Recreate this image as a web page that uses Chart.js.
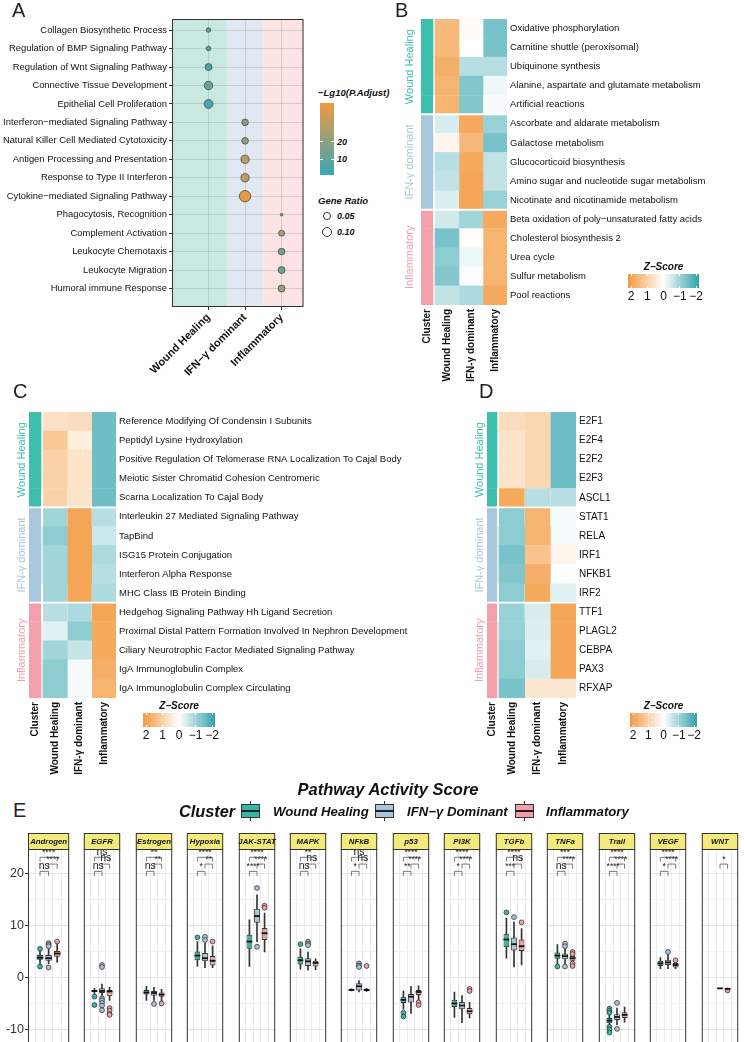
<!DOCTYPE html>
<html lang="en">
<head>
<meta charset="UTF-8">
<title>Cluster pathways and activity scores</title>
<script src="https://cdn.jsdelivr.net/npm/chart.js"></script>
<style>
  html, body { margin: 0; padding: 0; background: #fff; }
  #page { position: relative; width: 744px; height: 1042px; overflow: hidden;
          font-family: "Liberation Sans", Arial, Helvetica, sans-serif; color: #111; }
  #page canvas { position: absolute; }
  .lbl { position: absolute; line-height: 1; white-space: nowrap; }
  .bi { font-weight: bold; font-style: italic; }
  .abs { position: absolute; }
</style>
</head>
<body>
<div id="page">
  <canvas id="chartA" width="310" height="390" style="left:0;top:0"></canvas>
  <canvas id="chartB" width="342" height="390" style="left:395px;top:0"></canvas>
  <canvas id="chartC" width="440" height="393" style="left:0;top:390px"></canvas>
  <canvas id="chartD" width="216" height="393" style="left:460px;top:390px"></canvas>
</div>

<script>
// ---------- panel A : enrichment dot plot ----------
const termsA = ['Collagen Biosynthetic Process', 'Regulation of BMP Signaling Pathway',
  'Regulation of Wnt Signaling Pathway', 'Connective Tissue Development', 'Epithelial Cell Proliferation',
  'Interferon\u2212mediated Signaling Pathway', 'Natural Killer Cell Mediated Cytotoxicity',
  'Antigen Processing and Presentation', 'Response to Type II Interferon',
  'Cytokine\u2212mediated Signaling Pathway', 'Phagocytosis, Recognition', 'Complement Activation',
  'Leukocyte Chemotaxis', 'Leukocyte Migration', 'Humoral immune Response'];
const termCluster = [0, 0, 0, 0, 0, 1, 1, 1, 1, 1, 2, 2, 2, 2, 2];
const lgPadj    = [5.1, 5.1, 3.6, 11.2, 5.1, 17.2, 20.2, 29.3, 30.8, 39.9, 17.2, 26.3, 14.2, 11.2, 21.8];
const geneRatio = [0.017, 0.018, 0.042, 0.062, 0.068, 0.038, 0.038, 0.058, 0.058, 0.112,
                   0.006, 0.031, 0.038, 0.042, 0.042];
const clustersA = ['Wound Healing', 'IFN\u2212\u03b3 dominant', 'Inflammatory'];
const padjTicks = [10, 20];
const ratioTicks = [0.05, 0.10];

// ---------- panels B, C, D : z-score heatmaps (columns: wound, IFN, inflammatory) ----------
const groupNames = ['Wound Healing', 'IFN-\u03b3 dominant', 'Inflammatory'];
const heatCols = ['Cluster', 'Wound Healing', 'IFN-\u03b3 dominant', 'Inflammatory'];

const rowsB = ['Oxidative phosphorylation', 'Carnitine shuttle (peroxisomal)', 'Ubiquinone synthesis',
  'Alanine, aspartate and glutamate metabolism', 'Artificial reactions', 'Ascorbate and aldarate metabolism',
  'Galactose metabolism', 'Glucocorticoid biosynthesis', 'Amino sugar and nucleotide sugar metabolism',
  'Nicotinate and nicotinamide metabolism', 'Beta oxidation of poly\u2212unsaturated fatty acids',
  'Cholesterol biosynthesis 2', 'Urea cycle', 'Sulfur metabolism', 'Pool reactions'];
const bWound = [1.4, 1.4, 1.6, 1.5, 1.5, -0.4, 0.2, -0.7, -0.6, -0.35, -0.45, -1.3, -1.1, -1.2, -0.6];
const bIfn   = [0.1, 0, -0.7, -1.2, -1.2, 1.7, 1.4, 1.7, 1.8, 1.8, -0.9, 0.05, -0.2, -0.05, -0.8];
const bInfl  = [-1.3, -1.3, -0.7, -0.15, -0.08, -1.0, -1.3, -0.6, -0.6, -1.0, 1.7, 1.5, 1.5, 1.5, 1.7];

const rowsC = ['Reference Modifying Of Condensin I Subunits', 'Peptidyl Lysine Hydroxylation',
  'Positive Regulation Of Telomerase RNA Localization To Cajal Body', 'Meiotic Sister Chromatid Cohesion Centromeric',
  'Scarna Localization To Cajal Body', 'Interleukin 27 Mediated Signaling Pathway', 'TapBind',
  'ISG15 Protein Conjugation', 'Interferon Alpha Response', 'MHC Class IB Protein Binding',
  'Hedgehog Signaling Pathway Hh Ligand Secretion', 'Proximal Distal Pattern Formation Involved In Nephron Development',
  'Ciliary Neurotrophic Factor Mediated Signaling Pathway', 'IgA Immunoglobulin Complex',
  'IgA Immunoglobulin Complex Circulating'];
const cWound = [0.6, 1.1, 0.9, 0.9, 0.9, -0.9, -1.1, -0.9, -0.9, -0.9, -0.7, -0.3, -0.9, -1.1, -1.1];
const cIfn   = [0.7, 0.35, 0.55, 0.55, 0.55, 1.8, 1.8, 1.8, 1.8, 1.8, -0.8, -1.1, -0.55, -0.1, -0.1];
const cInfl  = [-1.4, -1.4, -1.4, -1.4, -1.4, -0.7, -0.5, -0.8, -0.7, -0.8, 1.8, 1.7, 1.7, 1.6, 1.5];

const rowsD = ['E2F1', 'E2F4', 'E2F2', 'E2F3', 'ASCL1', 'STAT1', 'RELA', 'IRF1', 'NFKB1', 'IRF2',
  'TTF1', 'PLAGL2', 'CEBPA', 'PAX3', 'RFXAP'];
const dWound = [0.7, 0.55, 0.55, 0.55, 1.7, -1.1, -1.1, -1.3, -1.2, -1.1, -1.0, -1.0, -1.1, -1.1, -1.3];
const dIfn   = [0.8, 0.8, 0.8, 0.8, -0.7, 1.5, 1.5, 1.2, 1.6, 1.7, -0.4, -0.35, -0.3, -0.4, 0.5];
const dInfl  = [-1.4, -1.4, -1.4, -1.4, -0.7, -0.1, -0.1, 0.2, -0.02, -0.3, 1.8, 1.8, 1.8, 1.8, 0.5];
const zTicks = [2, 1, 0, -1, -2];

// ---------- panel E : pathway activity boxplots ----------
const pathways = ['Androgen', 'EGFR', 'Estrogen', 'Hypoxia', 'JAK-STAT', 'MAPK', 'NFkB', 'p53',
  'PI3K', 'TGFb', 'TNFa', 'Trail', 'VEGF', 'WNT'];
// [lower whisker, Q1, median, Q3, upper whisker]
const woundBox = [[2.8, 3.5, 3.9, 4.4, 5.2], [-3.0, -2.7, -2.5, -2.3, -2.0], [-4.3, -3.2, -2.8, -2.3, -1.6],
  [2.2, 3.4, 4.3, 5.1, 7.0], [2.2, 5.6, 7.0, 8.3, 11.2], [1.7, 2.6, 3.4, 4.1, 5.6],
  [-2.5, -2.4, -2.3, -2.2, -2.1], [-6.0, -4.8, -4.2, -3.6, -2.5], [-7.6, -5.6, -4.9, -4.2, -2.7],
  [3.8, 5.9, 7.4, 8.5, 11.5], [2.7, 3.7, 4.3, 4.9, 6.4], [-9.2, -8.7, -8.2, -7.7, -7.0],
  [1.8, 2.3, 2.8, 3.3, 3.9], null];
const ifnBox = [[2.7, 3.3, 3.8, 4.4, 5.6], [-3.5, -2.9, -2.5, -2.0, -1.2], [-4.3, -3.4, -2.9, -2.5, -1.8],
  [2.0, 3.2, 3.8, 4.8, 6.7], [7.0, 10.6, 11.9, 13.3, 16.0], [1.5, 2.3, 3.2, 3.8, 5.0],
  [-2.7, -2.4, -1.6, -1.0, -0.5], [-6.8, -4.7, -3.6, -3.1, -1.6], [-8.6, -6.0, -5.3, -4.6, -3.4],
  [2.1, 5.3, 6.5, 7.8, 10.8], [2.6, 3.6, 4.2, 4.7, 5.6], [-9.0, -8.1, -7.5, -7.0, -5.8],
  [1.8, 2.5, 3.0, 3.5, 4.5], [-2.0, -2.0, -2.0, -2.0, -2.0]];
const inflBox = [[3.0, 4.1, 4.7, 5.2, 6.6], [-4.3, -3.5, -2.6, -2.3, -1.8], [-4.5, -3.6, -3.2, -2.8, -2.2],
  [2.0, 2.4, 3.3, 4.2, 6.2], [5.0, 7.3, 8.6, 9.6, 12.5], [1.6, 2.2, 2.9, 3.3, 3.7],
  [-2.6, -2.5, -2.3, -2.1, -2.0], [-4.3, -3.3, -2.7, -2.3, -1.5], [-7.7, -7.0, -6.4, -5.8, -4.7],
  [2.5, 5.2, 6.1, 7.4, 9.5], [2.7, 3.3, 3.8, 4.2, 4.9], [-8.5, -7.7, -7.1, -6.6, -5.6],
  [1.8, 2.0, 2.5, 2.9, 3.2], [-2.1, -2.1, -2.1, -2.1, -2.1]];
const woundOut = [[5.6, 2.2], [-3.6, -5.2], [], [7.8], [], [6.5], [], [-6.7, -7.4], [], [12.6], [2.2],
  [-5.9, -6.3, -6.7, -9.4, -9.9, -10.5], [], []];
const ifnOut = [[6.7, 6.4, 6.1, 2.0], [2.5, 2.1, -3.9, -4.3, -4.8, -5.3, -6.2], [-5.0], [7.9, 7.3], [17.3, 6.0],
  [7.0, 6.6, 6.3], [2.8, 2.4, 2.1], [], [], [11.7], [6.6, 6.1, 2.2], [-4.8, -9.8], [5.0], []];
const inflOut = [[7.0], [-5.8, -6.3, -6.9, -7.1], [-4.9], [7.0], [13.9, 13.5], [], [2.3], [-4.7, -5.2],
  [-2.1, -2.5], [10.7], [5.0, 4.6, 2.8, 2.3], [], [3.4], [-2.4]];
// significance labels: wound vs IFN, IFN vs inflammatory, wound vs inflammatory
const sig12 = ['ns', 'ns', 'ns', '*', '****', 'ns', '*', '**', '*', '***', 'ns', '****', '*', null];
const sig23 = ['****', 'ns', '**', '**', '****', 'ns', 'ns', '****', '****', 'ns', '****', '****', '****', '*'];
const sig13 = ['****', 'ns', '**', '****', '****', '**', 'ns', '****', '****', '****', '***', '****', '****', null];
const legendE = ['Wound Healing', 'IFN\u2212\u03b3 Dominant', 'Inflammatory'];

// ---------- styling ----------
const FONT = '"Liberation Sans", Arial, Helvetica, sans-serif';
Chart.defaults.font.family = FONT;
Chart.defaults.color = '#111';
Chart.defaults.animation = false;
Chart.defaults.responsive = false;
Chart.defaults.plugins.legend.display = false;
Chart.defaults.plugins.tooltip.enabled = false;

const groupColors = ['#3dbfad', '#a8c7dd', '#f4a0aa'];
const bandColors = ['#c9e8e2', '#e2e8f1', '#fde3e3'];
const boxColors = ['#35b8a3', '#a7c5dc', '#f29ea6'];
const page = document.getElementById('page');

const rgb = c => `rgb(${c.map(Math.round).join(',')})`;
const mix = (a, b, t) => a.map((v, i) => v + (b[i] - v) * t);
const zPos = [243, 155, 66], zNeg = [48, 162, 172], white = [255, 255, 255];
const zColor = z => rgb(mix(white, z >= 0 ? zPos : zNeg, Math.min(Math.abs(z) / 2, 1)));
const padjMin = 0.6, padjMax = 42.9, padjLow = [54, 168, 180], padjHigh = [242, 153, 62];
const padjColor = v => rgb(mix(padjLow, padjHigh, (v - padjMin) / (padjMax - padjMin)));
const ratioRadius = g => 17 * Math.sqrt(g);

function label(text, x, base, size, cls, align, color) {
  const d = document.createElement('div');
  d.className = 'lbl ' + (cls || '');
  d.textContent = text;
  d.style.fontSize = size + 'px';
  d.style.top = (base - 0.85 * size) + 'px';
  if (align === 'center') { d.style.left = x + 'px'; d.style.transform = 'translateX(-50%)'; }
  else d.style.left = x + 'px';
  if (color) d.style.color = color;
  page.appendChild(d);
  return d;
}
function box(x, y, w, h, css) {
  const d = document.createElement('div');
  d.className = 'abs';
  d.style.cssText += `left:${x}px;top:${y}px;width:${w}px;height:${h}px;` + (css || '');
  page.appendChild(d);
  return d;
}

// panel letters
label('A', 12, 17, 20, '', null, '#222');
label('B', 395, 17, 20, '', null, '#222');
label('C', 13, 398, 20, '', null, '#222');
label('D', 479, 398, 20, '', null, '#222');
label('E', 13, 817, 20, '', null, '#222');

// ---------- panel A ----------
const bandPlugin = {
  id: 'bands',
  beforeDraw(chart) {
    const { ctx, chartArea: a, scales: { x } } = chart;
    const edges = [x.min, 0.5, 1.5, x.max];
    ctx.save();
    bandColors.forEach((c, i) => {
      const x0 = x.getPixelForValue(edges[i]), x1 = x.getPixelForValue(edges[i + 1]);
      ctx.fillStyle = c;
      ctx.fillRect(x0, a.top, x1 - x0, a.bottom - a.top);
    });
    ctx.restore();
  }
};
const framePlugin = {
  id: 'frame',
  afterDraw(chart) {
    const { ctx, chartArea: a } = chart;
    ctx.save();
    ctx.strokeStyle = '#333';
    ctx.lineWidth = 1;
    ctx.strokeRect(a.left + 0.5, a.top + 0.5, a.right - a.left - 1, a.bottom - a.top - 1);
    ctx.restore();
  }
};
const gridA = { color: 'rgba(140,160,160,0.35)', tickColor: '#333', tickLength: 3 };

new Chart(document.getElementById('chartA'), {
  type: 'bubble',
  data: {
    datasets: [{
      data: termsA.map((t, i) => ({ x: termCluster[i], y: i, r: ratioRadius(geneRatio[i]) })),
      backgroundColor: lgPadj.map(padjColor),
      borderColor: '#4a4a4a',
      borderWidth: 0.8
    }]
  },
  options: {
    layout: { padding: { top: 19, right: 4, left: 0, bottom: 0 } },
    scales: {
      x: {
        type: 'linear', min: -1, max: 2.6,
        afterBuildTicks: s => { s.ticks = clustersA.map((c, i) => ({ value: i })); },
        afterFit: s => { s.height = 83; },
        ticks: { callback: v => clustersA[v], minRotation: 45, maxRotation: 45, autoSkip: false,
                 font: { size: 11, weight: 'bold' }, color: '#111', padding: 1 },
        grid: gridA, border: { display: false }
      },
      y: {
        type: 'linear', reverse: true, min: -0.6, max: 15,
        afterBuildTicks: s => { s.ticks = termsA.map((t, i) => ({ value: i })); },
        afterFit: s => { s.width = 172; },
        ticks: { callback: v => termsA[v], autoSkip: false, font: { size: 9.4 }, color: '#111', padding: 2 },
        grid: gridA, border: { display: false }
      }
    }
  },
  plugins: [bandPlugin, framePlugin]
});

// panel A legends
label('\u2212Lg10(P.Adjust)', 318, 96, 9.5, 'bi');
(function () {
  const top = 103, h = 72, left = 320, w = 14;
  box(left, top, w, h, `background:linear-gradient(to top, ${padjColor(padjMin)}, ${padjColor(padjMax)});`);
  padjTicks.forEach(v => {
    const y = top + h - (v - padjMin) / (padjMax - padjMin) * h;
    box(left, y - 0.5, 3, 1, 'background:#fff;');
    box(left + w - 3, y - 0.5, 3, 1, 'background:#fff;');
    label(String(v), left + w + 3, y + 3.5, 9, 'bi');
  });
  label('Gene Ratio', 318, 204, 9.5, 'bi');
  ratioTicks.forEach((v, k) => {
    const r = ratioRadius(v), cy = 216 + k * 16;
    box(327 - r, cy - r, 2 * r, 2 * r, 'border:1px solid #333;border-radius:50%;box-sizing:border-box;background:#fff;');
    label(v.toFixed(2), 337, cy + 3.3, 9, 'bi');
  });
})();

// ---------- heatmaps ----------
function groupLabelPlugin(size, offset) {
  return {
    id: 'groupLabels',
    afterDraw(chart) {
      const { ctx, chartArea: a, scales: { y } } = chart;
      ctx.save();
      ctx.font = `${size}px ${FONT}`;
      ctx.textAlign = 'center';
      ctx.textBaseline = 'middle';
      groupNames.forEach((name, gi) => {
        const yc = (y.getPixelForValue(gi * 5) + y.getPixelForValue(gi * 5 + 4)) / 2;
        ctx.save();
        ctx.translate(a.left - offset, yc);
        ctx.rotate(-Math.PI / 2);
        ctx.fillStyle = groupColors[gi];
        ctx.fillText(name, 0, 0);
        ctx.restore();
      });
      ctx.restore();
    }
  };
}

function heatmap(id, rows, cols, g) {
  const clusterW = g.clusterPx / g.unitPx, gapW = g.gapPx / g.unitPx;
  const total = clusterW + gapW + cols.length;
  const sep = i => ({ top: (i % 5 === 0 && i > 0) ? g.sepPx : 0,
                      bottom: (i % 5 === 4 && i < rows.length - 1) ? g.sepPx : 0, left: 0, right: 0 });
  const common = { borderColor: '#fff', borderWidth: ctx => sep(ctx.dataIndex), borderSkipped: false,
                   barPercentage: 1, categoryPercentage: 1, stack: 'hm' };
  const datasets = [
    { ...common, data: rows.map(() => clusterW), backgroundColor: rows.map((r, i) => groupColors[Math.floor(i / 5)]) },
    { ...common, data: rows.map(() => gapW), backgroundColor: 'rgba(0,0,0,0)', borderWidth: 0 },
    ...cols.map(col => ({ ...common, data: rows.map(() => 1), backgroundColor: col.map(zColor) }))
  ];
  const tickPos = [clusterW / 2, ...cols.map((c, k) => clusterW + gapW + 0.5 + k)];
  new Chart(document.getElementById(id), {
    type: 'bar',
    data: { labels: rows, datasets },
    options: {
      indexAxis: 'y',
      layout: { padding: { left: g.padLeft, top: g.padTop, right: 0, bottom: 0 } },
      scales: {
        x: {
          type: 'linear', stacked: true, min: 0, max: total, position: 'bottom',
          afterBuildTicks: s => { s.ticks = tickPos.map(v => ({ value: v })); },
          afterFit: s => { s.height = g.bottomPx; },
          ticks: { callback: (v, i) => heatCols[i], autoSkip: false, minRotation: 90, maxRotation: 90,
                   font: { size: 10, weight: 'bold' }, color: '#111', padding: 4 },
          grid: { display: false, drawTicks: false }, border: { display: false }
        },
        y: {
          type: 'category', position: 'right', stacked: true, offset: true,
          afterFit: s => { s.width = g.rightPx; },
          ticks: { font: { size: g.rowFont }, color: '#111', padding: 3, autoSkip: false },
          grid: { display: false, drawTicks: false }, border: { display: false }
        }
      }
    },
    plugins: [groupLabelPlugin(11, g.groupOffset)]
  });
}

heatmap('chartB', rowsB, [bWound, bIfn, bInfl],
  { unitPx: 24, clusterPx: 12, gapPx: 2, sepPx: 1.3, padLeft: 26, padTop: 19, bottomPx: 85, rightPx: 230,
    rowFont: 9.5, groupOffset: 11 });
heatmap('chartC', rowsC, [cWound, cIfn, cInfl],
  { unitPx: 24.3, clusterPx: 12, gapPx: 2, sepPx: 1.2, padLeft: 29, padTop: 22, bottomPx: 85, rightPx: 324,
    rowFont: 9.5, groupOffset: 7 });
heatmap('chartD', rowsD, [dWound, dIfn, dInfl],
  { unitPx: 25.7, clusterPx: 10, gapPx: 2, sepPx: 1.2, padLeft: 27, padTop: 22, bottomPx: 85, rightPx: 100,
    rowFont: 10, groupOffset: 7 });

function zLegend(x, top, w) {
  label('Z\u2212Score', x + w / 2, top - 4, 10, 'bi', 'center');
  box(x, top, w, 14, `background:linear-gradient(to right, ${zColor(2)}, #fff 50%, ${zColor(-2)});`);
  zTicks.forEach((v, k) => {
    const px = x + 3 + k * (w - 6) / 4;
    box(px - 0.5, top, 1, 2, 'background:#fff;');
    box(px - 0.5, top + 12, 1, 2, 'background:#fff;');
    label(v < 0 ? '\u2212' + Math.abs(v) : String(v), px, top + 26, 12, '', 'center');
  });
}
zLegend(628, 274, 71);
zLegend(143, 713, 72);
zLegend(630, 713, 67);

// ---------- panel E ----------
label('Pathway Activity Score', 388, 795, 16.5, 'bi', 'center');
label('Cluster', 179, 817, 16.3, 'bi');
[241, 375, 515].forEach((x, k) => {
  box(x + 9, 801, 1, 20, 'background:#333;');
  box(x, 804, 19, 14, `background:${boxColors[k]};border:1px solid #333;box-sizing:border-box;`);
  box(x, 810, 19, 2, 'background:#222;');
});
label(legendE[0], 273, 816, 13.2, 'bi');
label(legendE[1], 407, 816, 13.2, 'bi');
label(legendE[2], 546, 816, 13.2, 'bi');

const bracketPairs = [[1, 2, 20.5, 0.9], [2, 3, 21.9, 0.9], [1, 3, 23.2, 0.8]];

function facetPlugin(i, boxes) {
  const sigs = [sig12[i], sig23[i], sig13[i]];
  return {
    id: 'facet',
    afterDatasetsDraw(chart) {
      const { ctx, scales: { x, y } } = chart;
      const halfW = 0.38 * (x.getPixelForValue(2) - x.getPixelForValue(1));
      ctx.save();
      boxes.forEach((b, g) => {
        if (!b) return;
        const xc = x.getPixelForValue(g + 1), ym = y.getPixelForValue(b[2]);
        ctx.strokeStyle = '#111';
        ctx.lineWidth = 1.8;
        ctx.beginPath();
        ctx.moveTo(xc - halfW, ym);
        ctx.lineTo(xc + halfW, ym);
        ctx.stroke();
      });
      ctx.strokeStyle = '#444';
      ctx.lineWidth = 0.7;
      ctx.fillStyle = '#222';
      ctx.textAlign = 'center';
      ctx.textBaseline = 'bottom';
      bracketPairs.forEach(([from, to, level, leg], k) => {
        const s = sigs[k];
        if (!s) return;
        const x0 = x.getPixelForValue(from), x1 = x.getPixelForValue(to);
        const yl = y.getPixelForValue(level), yb = y.getPixelForValue(level - leg);
        ctx.beginPath();
        ctx.moveTo(x0, yb); ctx.lineTo(x0, yl); ctx.lineTo(x1, yl); ctx.lineTo(x1, yb);
        ctx.stroke();
        ctx.font = (s === 'ns' ? '10.5px ' : '8.5px ') + FONT;
        ctx.fillText(s, (x0 + x1) / 2, yl - 0.3);
      });
      ctx.restore();
    },
    afterDraw(chart) {
      const { ctx, chartArea: a } = chart;
      const stripH = 16;
      ctx.save();
      ctx.strokeStyle = '#333';
      ctx.lineWidth = 1;
      ctx.strokeRect(a.left + 0.5, a.top + 0.5, a.right - a.left - 1, a.bottom - a.top - 1);
      ctx.fillStyle = '#f2ea7c';
      ctx.fillRect(a.left, a.top - stripH, a.right - a.left, stripH);
      ctx.strokeRect(a.left + 0.5, a.top - stripH + 0.5, a.right - a.left - 1, stripH);
      ctx.fillStyle = '#111';
      ctx.font = `italic bold 7.8px ${FONT}`;
      ctx.textAlign = 'center';
      ctx.textBaseline = 'middle';
      ctx.fillText(pathways[i], (a.left + a.right) / 2, a.top - stripH / 2 + 0.5);
      ctx.restore();
    }
  };
}

const yGrid = [-10, -5, 0, 5, 10, 15, 20];
pathways.forEach((p, i) => {
  const first = i === 0;
  const left = Math.round(27.7 + i * 51.45);
  const axisW = first ? 28 : 0;
  const c = document.createElement('canvas');
  c.width = 46 + axisW;
  c.height = 225;
  c.style.left = (left - axisW) + 'px';
  c.style.top = '833px';
  page.appendChild(c);

  const boxes = [woundBox[i], ifnBox[i], inflBox[i]];
  const outs = [woundOut[i], ifnOut[i], inflOut[i]];
  const present = [0, 1, 2].filter(g => boxes[g]);
  const outPts = [], outCols = [];
  outs.forEach((arr, g) => arr.forEach(v => { outPts.push({ x: g + 1, y: v }); outCols.push(boxColors[g]); }));

  new Chart(c, {
    type: 'bar',
    data: {
      datasets: [
        { type: 'scatter', data: outPts, pointBackgroundColor: outCols, pointBorderColor: '#333',
          pointBorderWidth: 0.8, pointRadius: 2.4, showLine: false },
        { data: present.map(g => ({ x: g + 1, y: [boxes[g][1], boxes[g][3]] })),
          backgroundColor: present.map(g => boxColors[g]), borderColor: '#333', borderWidth: 1,
          borderSkipped: false, grouped: false, barPercentage: 0.76, categoryPercentage: 1 },
        { data: present.map(g => ({ x: g + 1, y: [boxes[g][0], boxes[g][4]] })),
          backgroundColor: '#333', barThickness: 1, grouped: false }
      ]
    },
    options: {
      layout: { padding: { top: 16, bottom: 14, left: 0, right: 0 } },
      scales: {
        x: {
          type: 'linear', min: 0.4, max: 3.6,
          afterBuildTicks: s => { s.ticks = [1, 2, 3].map(v => ({ value: v })); },
          afterFit: s => { s.height = 0; },
          ticks: { display: false },
          grid: { color: '#ebebeb', drawTicks: false }, border: { display: false }
        },
        y: {
          type: 'linear', min: -12.7, max: 24.8,
          afterBuildTicks: s => { s.ticks = yGrid.map(v => ({ value: v })); },
          afterFit: s => { s.width = axisW; },
          ticks: { display: first, callback: v => (v % 10 === 0 ? String(v) : ''), font: { size: 12.5 },
                   color: '#333', padding: 1 },
          grid: {
            color: ctx => (ctx.tick && ctx.tick.value % 10 === 0 ? '#e6e6e6' : '#f3f3f3'),
            drawTicks: first, tickLength: 3,
            tickColor: ctx => (ctx.tick && ctx.tick.value % 10 === 0 ? '#333' : 'rgba(0,0,0,0)')
          },
          border: { display: false }
        }
      }
    },
    plugins: [facetPlugin(i, boxes)]
  });
});
</script>
</body>
</html>
